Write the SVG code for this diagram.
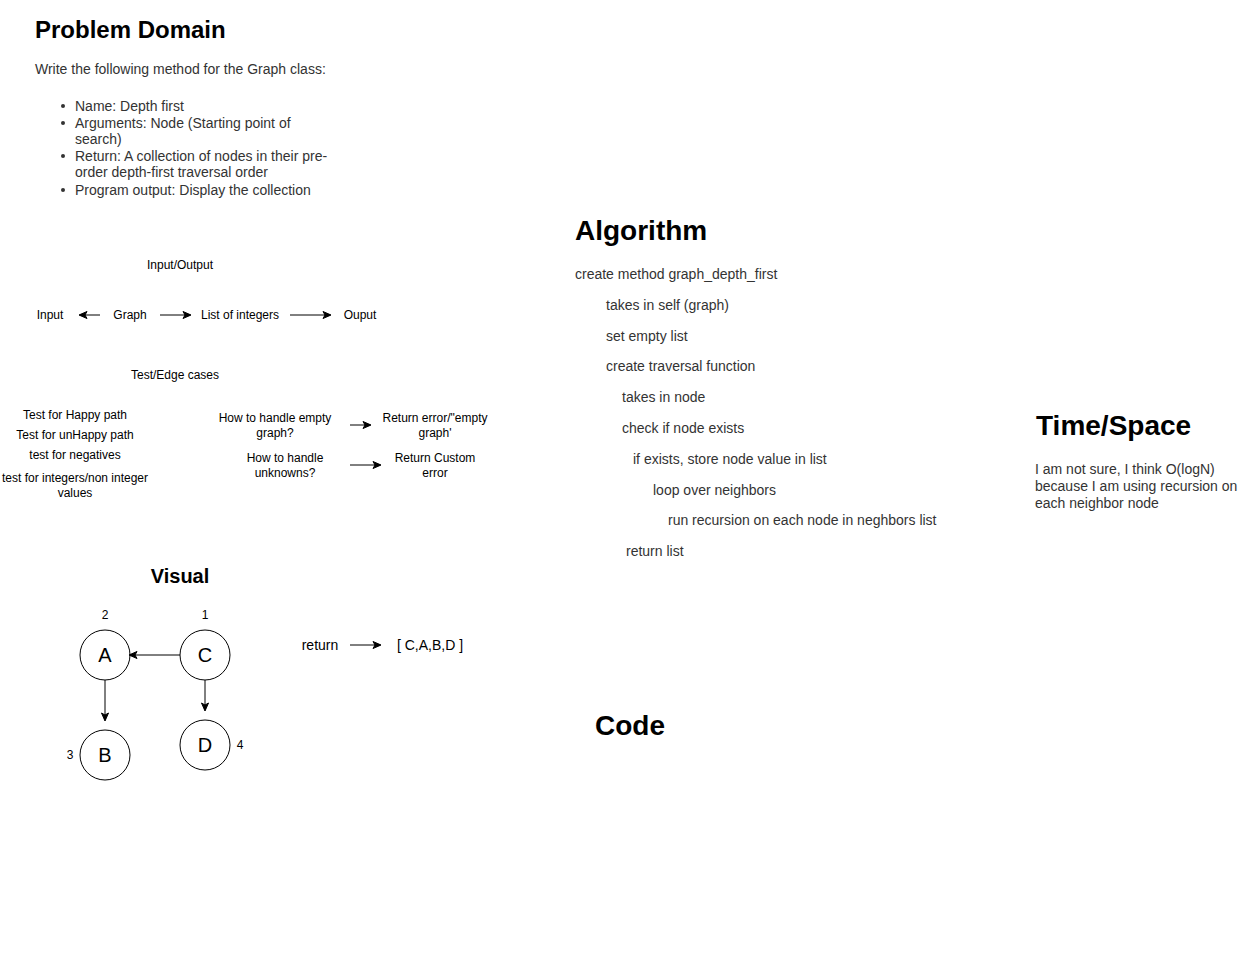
<svg xmlns="http://www.w3.org/2000/svg" width="1252" height="961" viewBox="0 0 1252 961">
<style>
text{font-family:"Liberation Sans",Arial,sans-serif;}
.h{font-weight:bold;fill:#000;}
.b{font-size:14px;fill:#333;}
.s{font-size:12px;fill:#000;text-anchor:middle;}
.m{font-size:14px;fill:#000;text-anchor:middle;}
.n{font-size:20px;fill:#000;text-anchor:middle;}
.c{fill:#fff;stroke:#000;stroke-width:1;}
.e{stroke:#000;stroke-width:1;fill:none;marker-end:url(#ah);}
</style>
<defs>
<marker id="ah" markerUnits="userSpaceOnUse" markerWidth="10" markerHeight="10" refX="8" refY="5" orient="auto" viewBox="0 0 10 10">
<path d="M1,1.5 L9,5 L1,8.5 L3,5 z" fill="#000" stroke="#000" stroke-width="1"/>
</marker>
</defs>
<rect width="1252" height="961" fill="#fff"/>

<g id="problem-domain">
<text class="h" x="35" y="38" font-size="24">Problem Domain</text>
<text class="b" x="35" y="74">Write the following method for the Graph class:</text>
<circle cx="63" cy="106" r="2" fill="#333"/>
<circle cx="63" cy="123" r="2" fill="#333"/>
<circle cx="63" cy="156" r="2" fill="#333"/>
<circle cx="63" cy="190" r="2" fill="#333"/>
<text class="b" x="75" y="111">Name: Depth first</text>
<text class="b" x="75" y="128">Arguments: Node (Starting point of</text>
<text class="b" x="75" y="144">search)</text>
<text class="b" x="75" y="161">Return: A collection of nodes in their pre-</text>
<text class="b" x="75" y="177">order depth-first traversal order</text>
<text class="b" x="75" y="195">Program output: Display the collection</text>
</g>

<g id="io-title"><text class="s" x="180" y="269">Input/Output</text></g>
<g id="io-input"><text class="s" x="50" y="319">Input</text></g>
<g id="io-graph"><text class="s" x="130" y="319">Graph</text></g>
<g id="io-list"><text class="s" x="240" y="319">List of integers</text></g>
<g id="io-output"><text class="s" x="360" y="319">Ouput</text></g>

<g id="tests-title"><text class="s" x="175" y="379">Test/Edge cases</text></g>
<g id="test-happy"><text class="s" x="75" y="419">Test for Happy path</text></g>
<g id="test-unhappy"><text class="s" x="75" y="439">Test for unHappy path</text></g>
<g id="test-negatives"><text class="s" x="75" y="459">test for negatives</text></g>
<g id="test-integers"><text class="s" x="75" y="482">test for integers/non integer</text><text class="s" x="75" y="497">values</text></g>
<g id="edge-empty"><text class="s" x="275" y="422">How to handle empty</text><text class="s" x="275" y="437">graph?</text></g>
<g id="edge-empty-result"><text class="s" x="435" y="422">Return error/"empty</text><text class="s" x="435" y="437">graph'</text></g>
<g id="edge-unknown"><text class="s" x="285" y="462">How to handle</text><text class="s" x="285" y="477">unknowns?</text></g>
<g id="edge-unknown-result"><text class="s" x="435" y="462">Return Custom</text><text class="s" x="435" y="477">error</text></g>

<g id="visual-title"><text class="h" x="180" y="583" font-size="20" text-anchor="middle">Visual</text></g>
<g id="node-A"><circle class="c" cx="105" cy="655" r="25"/><text class="n" x="105" y="662">A</text></g>
<g id="node-C"><circle class="c" cx="205" cy="655" r="25"/><text class="n" x="205" y="662">C</text></g>
<g id="node-B"><circle class="c" cx="105" cy="755" r="25"/><text class="n" x="105" y="762">B</text></g>
<g id="node-D"><circle class="c" cx="205" cy="745" r="25"/><text class="n" x="205" y="752">D</text></g>
<g id="label-2"><text class="s" x="105" y="619">2</text></g>
<g id="label-1"><text class="s" x="205" y="619">1</text></g>
<g id="label-3"><text class="s" x="70" y="759">3</text></g>
<g id="label-4"><text class="s" x="240" y="749">4</text></g>
<g id="return-label"><text class="m" x="320" y="650">return</text></g>
<g id="return-value"><text class="m" x="430" y="650">[ C,A,B,D ]</text></g>

<g id="connectors">
<line class="e" x1="100" y1="315" x2="80" y2="315"/>
<line class="e" x1="160" y1="315" x2="190" y2="315"/>
<line class="e" x1="290" y1="315" x2="330" y2="315"/>
<line class="e" x1="350" y1="425" x2="370" y2="425"/>
<line class="e" x1="350" y1="465" x2="380" y2="465"/>
<line class="e" x1="180" y1="655" x2="130" y2="655"/>
<line class="e" x1="105" y1="680" x2="105" y2="720"/>
<line class="e" x1="205" y1="680" x2="205" y2="710"/>
<line class="e" x1="350" y1="645" x2="380" y2="645"/>
</g>

<g id="algorithm">
<text class="h" x="575" y="240" font-size="28">Algorithm</text>
<text class="b" x="575" y="279">create method graph_depth_first</text>
<text class="b" x="606" y="310">takes in self (graph)</text>
<text class="b" x="606" y="341">set empty list</text>
<text class="b" x="606" y="371">create traversal function</text>
<text class="b" x="622" y="402">takes in node</text>
<text class="b" x="622" y="433">check if node exists</text>
<text class="b" x="633" y="464">if exists, store node value in list</text>
<text class="b" x="653" y="495">loop over neighbors</text>
<text class="b" x="668" y="525">run recursion on each node in neghbors list</text>
<text class="b" x="626" y="556">return list</text>
</g>

<g id="time-space">
<text class="h" x="1036" y="435" font-size="28">Time/Space</text>
<text class="b" x="1035" y="474">I am not sure, I think O(logN)</text>
<text class="b" x="1035" y="491">because I am using recursion on</text>
<text class="b" x="1035" y="508">each neighbor node</text>
</g>

<g id="code"><text class="h" x="595" y="735" font-size="28">Code</text></g>
</svg>
